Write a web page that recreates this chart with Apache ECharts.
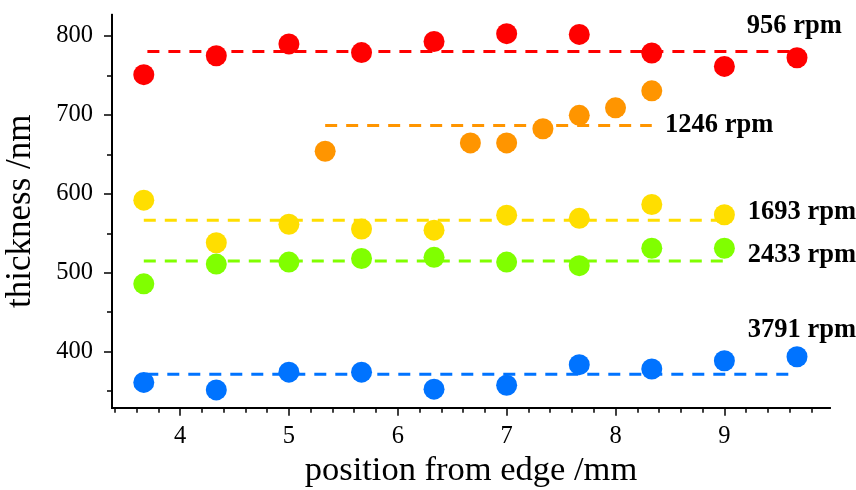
<!DOCTYPE html>
<html>
<head>
<meta charset="utf-8">
<script src="https://cdn.jsdelivr.net/npm/echarts@6/dist/echarts.min.js"></script>
<style>html,body{margin:0;padding:0;background:#fff}#c{width:856px;height:490px}</style>
</head>
<body>
<div id="c"></div>
<script>
// ---- data ----
var xFull = [3.667, 4.333, 5, 5.667, 6.333, 7, 7.667, 8.333, 9, 9.667];
var xNine = [3.667, 4.333, 5, 5.667, 6.333, 7, 7.667, 8.333, 9];
var xOrange = [5.333, 6.667, 7, 7.333, 7.667, 8, 8.333];

var red956 = [751, 775, 790, 779, 793, 803, 802, 778.5, 761.5, 772.5];
var orange1246 = [654, 664.5, 664.5, 682.5, 699.5, 709, 730.5];
var yellow1693 = [592, 538, 561.5, 555.5, 554, 573, 569, 586.5, 573.5];
var green2433 = [486, 511, 513.5, 518, 519.5, 513.5, 509, 531, 531];
var blue3791 = [361, 351.5, 374, 374, 352.5, 357.5, 383.5, 378, 388.5, 393.5];

// mean (fit) lines: [xStart, xEnd, y]
var fit956 = [3.70, 9.667, 780.5];
var fit1246 = [5.333, 8.333, 686.5];
var fit1693 = [3.667, 9.0, 566.5];
var fit2433 = [3.667, 9.0, 515];
var fit3791 = [3.69, 9.63, 371.5];

var seriesNames = ['956 rpm', '1246 rpm', '1693 rpm', '2433 rpm', '3791 rpm'];
// label anchor positions (data coords)
var labelX = [9.206, 8.455, 9.215, 9.215, 9.215];
var labelY = [812.3, 686.5, 577, 522, 427.6];

var xMajor = [4, 5, 6, 7, 8, 9];
var xMinor = [3.4, 3.6, 3.8, 4.2, 4.4, 4.6, 4.8, 5.2, 5.4, 5.6, 5.8, 6.2, 6.4, 6.6, 6.8, 7.2, 7.4, 7.6, 7.8, 8.2, 8.4, 8.6, 8.8, 9.2, 9.4, 9.6, 9.8];
var yMajor = [400, 500, 600, 700, 800];
var yMinor = [350, 450, 550, 650, 750];

var colors = ['#ff0000', '#ff9500', '#ffde00', '#80ff00', '#0073ff'];
// ---- chart ----
var FONT = 'Liberation Serif';
var X_MIN = 3.375, X_MAX = 9.97, Y_MIN = 329, Y_MAX = 827;

function zip(xs, ys) { return xs.map(function (x, i) { return [x, ys[i]]; }); }
function fitLine(f, c) {
  return {
    type: 'line', data: [[f[0], f[2]], [f[1], f[2]]], symbol: 'none', silent: true, z: 2,
    lineStyle: { color: c, width: 3, type: [12, 9] }
  };
}
function dots(xs, ys, c) {
  return { type: 'scatter', data: zip(xs, ys), symbol: 'circle', symbolSize: 21, z: 3,
    itemStyle: { color: c, opacity: 1 } };
}

var labelSeries = {
  type: 'scatter', symbolSize: 0, z: 4, silent: true,
  itemStyle: { opacity: 1, color: '#000' },
  data: seriesNames.map(function (n, i) { return { value: [labelX[i], labelY[i]], name: n }; }),
  label: { show: true, position: 'right', distance: 0, formatter: '{b}', opacity: 1,
    fontFamily: FONT, fontWeight: 'bold', fontSize: 26.5, color: '#000000' }
};

var chart = echarts.init(document.getElementById('c'), null, { renderer: 'canvas' });
var axisBase = {
  type: 'value', splitLine: { show: false },
  axisLine: { show: true, onZero: false, lineStyle: { color: '#000', width: 2 } }
};
chart.setOption({
  animation: false,
  backgroundColor: '#fff',
  grid: { left: 112, right: 26, top: 14.7, bottom: 82.3, containLabel: false, outerBoundsMode: 'none' },
  xAxis: [
    Object.assign({}, axisBase, {
      min: X_MIN, max: X_MAX, position: 'bottom',
      name: 'position from edge /mm', nameLocation: 'middle', nameGap: 43,
      nameTextStyle: { fontFamily: FONT, fontSize: 34.5, color: '#000', verticalAlign: 'top' },
      axisTick: { show: true, inside: false, length: 8, lineStyle: { color: '#000', width: 1.5 }, customValues: xMajor },
      axisLabel: { show: true, customValues: xMajor, margin: 16, fontFamily: FONT, fontSize: 24.5, color: '#000' }
    }),
    Object.assign({}, axisBase, {
      min: X_MIN, max: X_MAX, position: 'bottom', offset: 0,
      axisTick: { show: true, inside: false, length: 5, lineStyle: { color: '#000', width: 1.5 }, customValues: xMinor },
      axisLabel: { show: false }
    })
  ],
  yAxis: [
    Object.assign({}, axisBase, {
      min: Y_MIN, max: Y_MAX, position: 'left',
      name: 'thickness /nm', nameLocation: 'middle', nameGap: 74, nameRotate: 90,
      nameTextStyle: { fontFamily: FONT, fontSize: 35, color: '#000' },
      axisTick: { show: true, inside: false, length: 8, lineStyle: { color: '#000', width: 1.5 }, customValues: yMajor },
      axisLabel: { show: true, customValues: yMajor, margin: 19, fontFamily: FONT, fontSize: 24.5, color: '#000' }
    }),
    Object.assign({}, axisBase, {
      min: Y_MIN, max: Y_MAX, position: 'left', offset: 0,
      axisTick: { show: true, inside: false, length: 5, lineStyle: { color: '#000', width: 1.5 }, customValues: yMinor },
      axisLabel: { show: false }
    })
  ],
  series: [
    fitLine(fit956, colors[0]),
    fitLine(fit1246, colors[1]),
    fitLine(fit1693, colors[2]),
    fitLine(fit2433, colors[3]),
    fitLine(fit3791, colors[4]),
    dots(xFull, red956, colors[0]),
    dots(xOrange, orange1246, colors[1]),
    dots(xNine, yellow1693, colors[2]),
    dots(xNine, green2433, colors[3]),
    dots(xFull, blue3791, colors[4]),
    labelSeries
  ]
});
</script>
</body>
</html>
